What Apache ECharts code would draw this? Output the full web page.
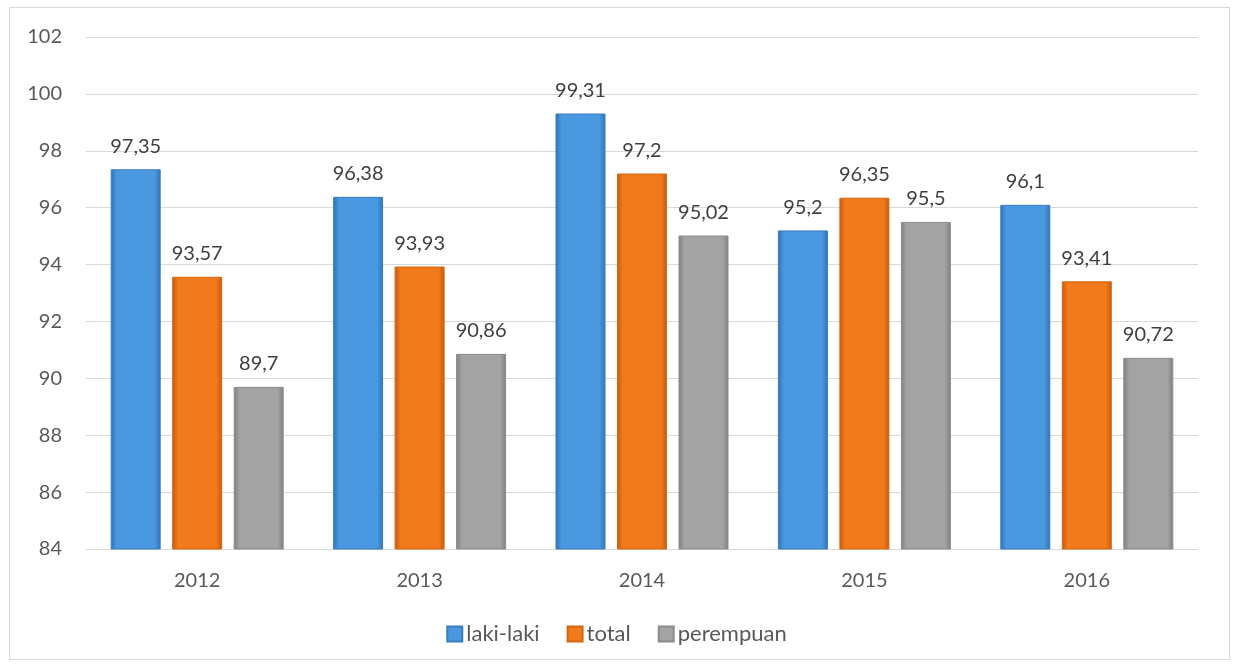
<!DOCTYPE html>
<html><head><meta charset="utf-8">
<script src="https://cdn.jsdelivr.net/npm/echarts@6/dist/echarts.min.js"></script>
<style>html,body{margin:0;padding:0;background:#fff}#c{width:1233px;height:665px}
#frame{position:absolute;left:9px;top:7px;width:1221px;height:653px;border:1px solid #d9d9d9;box-sizing:border-box;pointer-events:none}</style>
</head><body><div id="c"></div><div id="frame"></div>
<script>
const categories = ['2012','2013','2014','2015','2016'];
const lakiLaki = [97.35, 96.38, 99.31, 95.2, 96.1];
const total = [93.57, 93.93, 97.2, 96.35, 93.41];
const perempuan = [89.7, 90.86, 95.02, 95.5, 90.72];
const seriesNames = ['laki-laki','total','perempuan'];

function grad(edge, mid) {
  return new echarts.graphic.LinearGradient(0,0,1,0,[
    {offset:0, color:edge},{offset:0.12,color:mid},{offset:0.88,color:mid},{offset:1,color:edge}]);
}
const colors = [
  grad('#2f72b8','#4a98df'),
  grad('#c85a0c','#f07a1c'),
  grad('#7f7f7f','#a3a3a3')
];
const font = 'Lato, "Open Sans", sans-serif';
const chart = echarts.init(document.getElementById('c'));
const fmt = p => String(p.value).replace('.', ',');
const mk = (name, data, i) => ({
  name, type:'bar', data, barWidth:50, barGap:'23%',
  itemStyle:{color:colors[i], borderColor:['#3a7cc0','#d4660f','#8c8c8c'][i], borderWidth:1},
  label:{show:true, position:'top', distance:13, formatter:fmt, fontFamily:font, fontSize:20, color:'#404040'}
});
chart.setOption({
  animation:false,
  textStyle:{fontFamily:font},
  grid:{left:86, right:35, top:37, bottom:116},
  legend:{top:618, left:'center', itemWidth:15, itemHeight:15, itemGap:27,
    textStyle:{fontSize:22, color:'#595959', fontFamily:font, padding:[0,0,0,-1]},
    data:seriesNames.map((n,i)=>({name:n, icon:'rect'}))},
  xAxis:{type:'category', data:categories,
    axisLine:{lineStyle:{color:'#d9d9d9', width:1}}, axisTick:{show:false},
    axisLabel:{fontSize:20, color:'#595959', margin:22, fontFamily:font}},
  yAxis:{type:'value', min:84, max:102, interval:2,
    axisLine:{show:false}, axisTick:{show:false},
    splitLine:{lineStyle:{color:'#d9d9d9'}},
    axisLabel:{fontSize:20, color:'#595959', margin:24, fontFamily:font}},
  series:[mk(seriesNames[0], lakiLaki, 0), mk(seriesNames[1], total, 1), mk(seriesNames[2], perempuan, 2)]
});
</script></body></html>
